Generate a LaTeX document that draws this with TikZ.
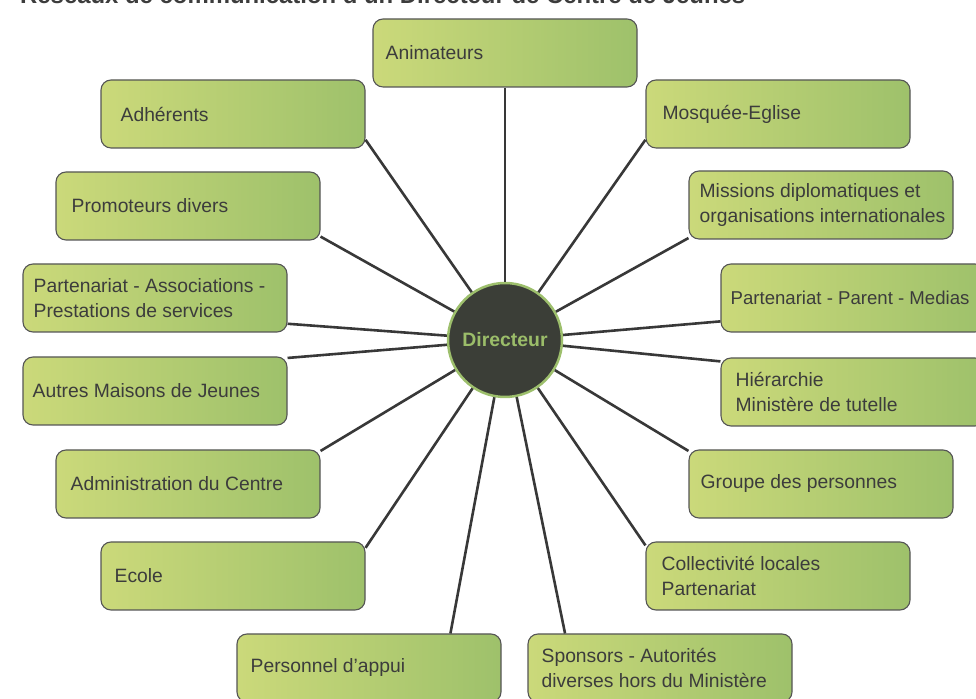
\documentclass[tikz,border=0pt]{standalone}
\usepackage{fontspec}
\setmainfont{Liberation Sans}
\definecolor{gL}{HTML}{CBD97A}
\definecolor{gR}{HTML}{9EC16B}
\definecolor{boxline}{HTML}{555555}
\definecolor{txtc}{HTML}{3C3C3C}
\definecolor{linec}{HTML}{383838}
\definecolor{dirfill}{HTML}{3B3E37}
\definecolor{dirring}{HTML}{9DBF6C}
\definecolor{dirtext}{HTML}{9BBD69}
\begin{document}
\begin{tikzpicture}[x=1pt,y=1pt,
  box/.style={draw=boxline, line width=1.1pt, rounded corners=10pt, left color=gL, right color=gR,
              minimum width=264pt, minimum height=68pt, inner sep=0pt},
  txt/.style={anchor=west, text=txtc, font=\fontsize{19.3}{25}\selectfont, align=left, inner sep=0pt},
  link/.style={draw=linec, line width=2.6pt}]
\clip (0,0) rectangle (976,698);
% title (cut off at the top, as in the reference)
\node[anchor=base west, inner sep=0pt, text=txtc] (title) at (20,694)
  {\resizebox{725pt}{!}{\bfseries Réseaux de communication d'un Directeur de Centre de Jeunes}};
% centre
\node[circle, fill=dirfill, draw=dirring, line width=2.5pt, minimum size=114pt, inner sep=0pt,
      text=dirtext, font=\fontsize{19.4}{22}\selectfont\bfseries] (dir) at (505,358) {Directeur};
% boxes
\node[box] (anim)   at (505,645) {};
\node[box] (adh)    at (233,584) {};
\node[box] (mosq)   at (778,584) {};
\node[box] (prom)   at (188,492) {};
\node[box] (miss)   at (821,493) {};
\node[box] (passoc) at (155,400) {};
\node[box] (ppm)    at (853,400) {};
\node[box] (autres) at (155,307) {};
\node[box] (hier)   at (853,306) {};
\node[box] (admin)  at (188,214) {};
\node[box] (groupe) at (821,214) {};
\node[box] (ecole)  at (233,122) {};
\node[box] (coll)   at (778,122) {};
\node[box] (pers)   at (369,30) {};
\node[box] (spons)  at (660,30) {};
% texts
\node[txt] (tanim)   at ([xshift=13pt]anim.west)   {Animateurs};
\node[txt] (tadh)    at ([xshift=20pt]adh.west)    {Adhérents};
\node[txt] (tmosq)   at ([xshift=17pt]mosq.west)   {Mosquée-Eglise};
\node[txt] (tprom)   at ([xshift=16pt]prom.west)   {Promoteurs divers};
\node[txt] (tmiss)   at ([xshift=11pt]miss.west)   {Missions diplomatiques et\\organisations internationales};
\node[txt] (tpassoc) at ([xshift=11pt]passoc.west) {Partenariat - Associations -\\Prestations de services};
\node[txt, font=\fontsize{18.6}{25}\selectfont] (tppm) at ([xshift=10pt]ppm.west) {Partenariat - Parent - Medias};
\node[txt] (tautres) at ([xshift=10pt]autres.west) {Autres Maisons de Jeunes};
\node[txt] (thier)   at ([xshift=15pt]hier.west)   {Hiérarchie\\Ministère de tutelle};
\node[txt] (tadmin)  at ([xshift=15pt]admin.west)  {Administration du Centre};
\node[txt] (tgroupe) at ([xshift=12pt]groupe.west) {Groupe des personnes};
\node[txt] (tecole)  at ([xshift=14pt]ecole.west)  {Ecole};
\node[txt] (tcoll)   at ([xshift=16pt]coll.west)   {Collectivité locales\\Partenariat};
\node[txt] (tpers)   at ([xshift=14pt]pers.west)   {Personnel d’appui};
\node[txt] (tspons)  at ([xshift=14pt]spons.west)  {Sponsors - Autorités\\diverses hors du Ministère};
% connectors
\draw[link] (dir) -- (anim.south);
\draw[link] (dir) -- (adh.-11);
\draw[link] (dir) -- (mosq.191);
\draw[link] (dir) -- (prom.-13);
\draw[link] (dir) -- (miss.194);
\draw[link] (dir) -- (passoc.-11);
\draw[link] (dir) -- (ppm.190);
\draw[link] (dir) -- (autres.14);
\draw[link] (dir) -- (hier.167);
\draw[link] (dir) -- (admin.14);
\draw[link] (dir) -- (groupe.166);
\draw[link] (dir) -- (ecole.12);
\draw[link] (dir) -- (coll.167);
\draw[link] (dir) -- (pers.23);
\draw[link] (dir) -- (spons.160);
\end{tikzpicture}
\end{document}
